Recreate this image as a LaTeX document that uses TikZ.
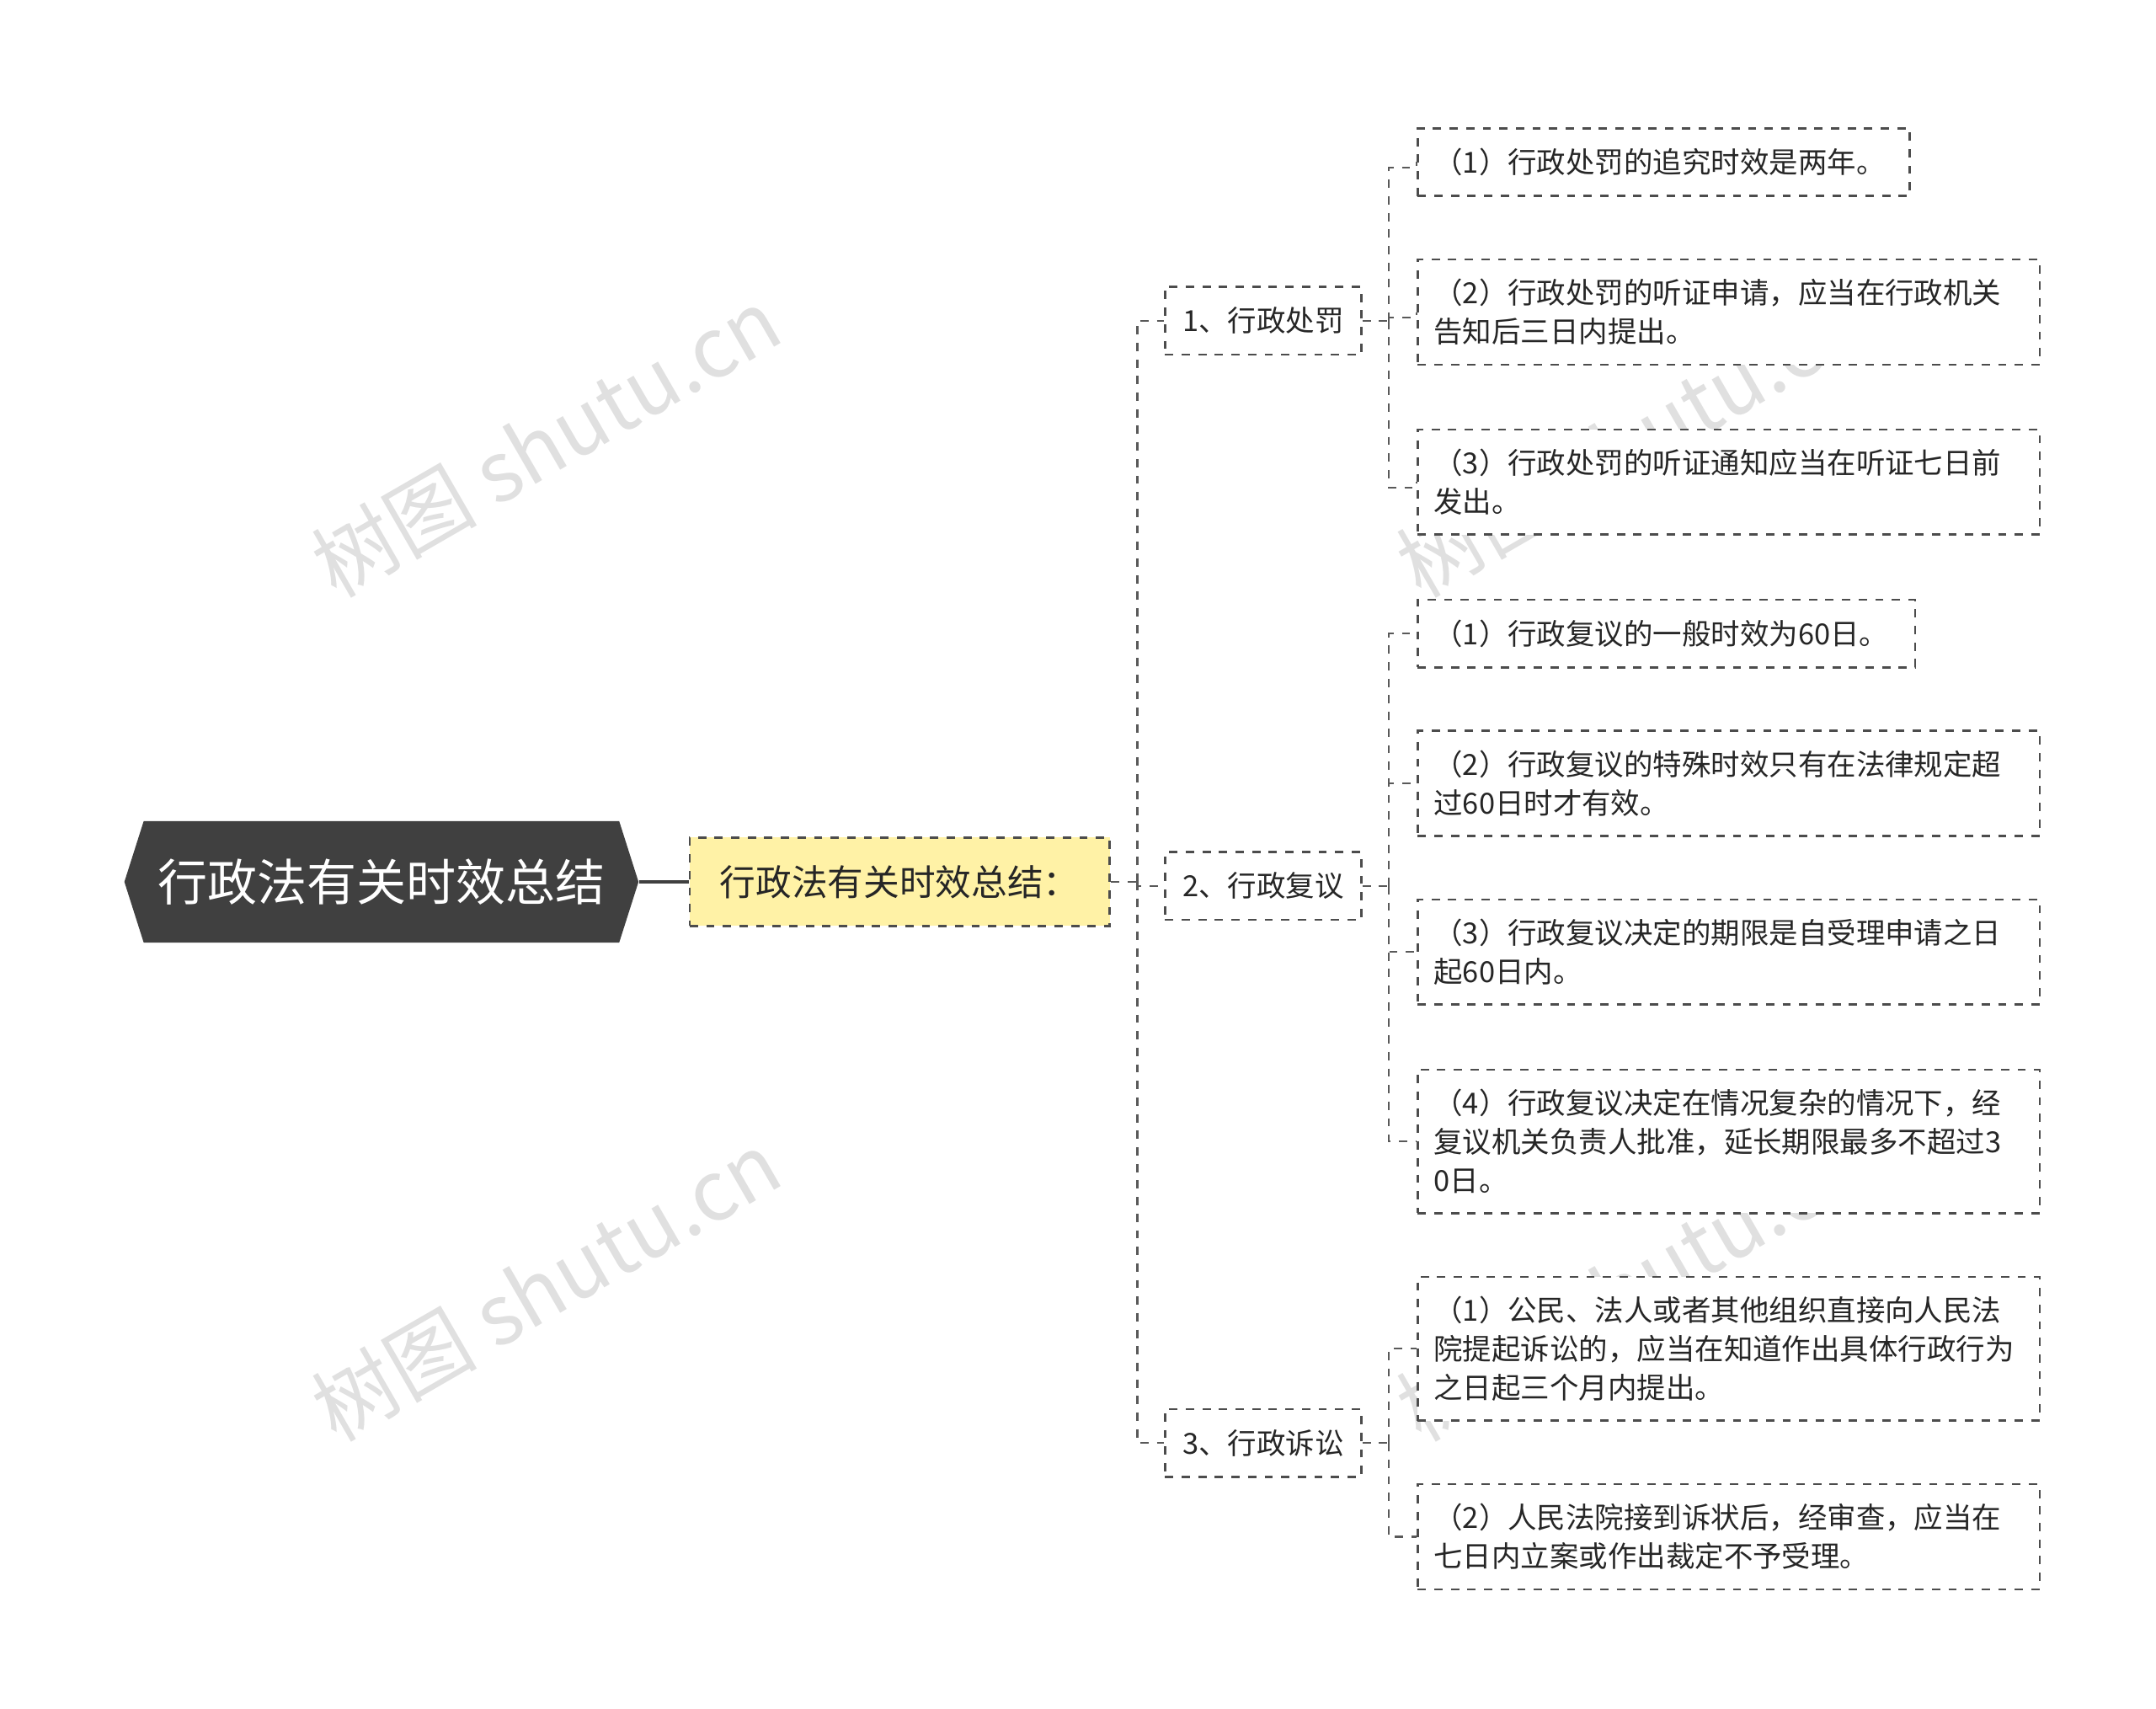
\documentclass[tikz,border=0pt]{standalone}
\usepackage{fontspec}
\newfontfamily\cjk{Noto Sans CJK SC}
\begin{document}
\begin{tikzpicture}[x=0.5pt,y=-0.5pt,
  conn/.style={draw=black!65,dashed,line width=0.7pt},
  leaf/.style={draw=black!70,dashed,line width=0.8pt,fill=white,anchor=north west,inner sep=0pt,font=\cjk\fontsize{10.5}{14}\selectfont,text=black!85},
  mid/.style={draw=black!70,dashed,line width=0.8pt,fill=white,inner sep=0pt,minimum width=71pt,minimum height=24.5pt,font=\cjk\fontsize{10.5}{14}\selectfont,text=black!85},
  wm/.style={text=black!12,rotate=30,font=\cjk\fontsize{30}{30}\selectfont}]
\useasboundingbox (0,0) rectangle (1560,1236);
\fill[white] (0,0) rectangle (1560,1236);
% watermarks
\node[wm] (w1) at (395,320) {树图 shutu.cn};
\node[wm] (w2) at (1180,320) {树图 shutu.cn};
\node[wm] (w3) at (395,930) {树图 shutu.cn};
\node[wm] (w4) at (1180,930) {树图 shutu.cn};
% root
\fill[black!75] (90,638)--(104,594)--(448,594)--(462,638)--(448,682)--(104,682)--cycle;
\node[text=white,font=\cjk\fontsize{18}{20}\selectfont,minimum width=186pt,minimum height=44pt,inner sep=0pt] (root) at (276,638) {行政法有关时效总结};
\node[draw=black!70,dashed,line width=0.8pt,fill=orange!30!yellow!35,minimum width=152pt,minimum height=32pt,inner sep=0pt,font=\cjk\fontsize{13}{15}\selectfont,text=black!85] (l1) at (651,638) {行政法有关时效总结：};
\draw[black!75,line width=1pt] (root.east) -- (l1.west);
% mid
\node[mid] (b1) at (914,232) {1、行政处罚};
\node[mid] (b2) at (914,641) {2、行政复议};
\node[mid] (b3) at (914,1044) {3、行政诉讼};
\coordinate (t) at (823,638);
\draw[conn] (l1.east) -- (t);
\foreach \b in {b1,b2,b3} \draw[conn] (t) |- (\b.west);
% leaves
\newcommand\leafnode[5]{\node[leaf,minimum width=#3,minimum height=#4] (#1) at (1025,#2) {};
  \node[anchor=west,align=left,inner sep=0pt,font=\cjk\fontsize{10.5}{14}\selectfont,text=black!85] at ([xshift=6pt]#1.west) {#5};}
\leafnode{a1}{92}{178pt}{24.5pt}{（1）行政处罚的追究时效是两年。}
\leafnode{a2}{187}{225pt}{38pt}{（2）行政处罚的听证申请，应当在行政机关\\告知后三日内提出。}
\leafnode{a3}{310}{225pt}{38pt}{（3）行政处罚的听证通知应当在听证七日前\\发出。}
\leafnode{c1}{433}{180pt}{24.5pt}{（1）行政复议的一般时效为60日。}
\leafnode{c2}{528}{225pt}{38pt}{（2）行政复议的特殊时效只有在法律规定超\\过60日时才有效。}
\leafnode{c3}{650}{225pt}{38pt}{（3）行政复议决定的期限是自受理申请之日\\起60日内。}
\leafnode{c4}{773}{225pt}{52pt}{（4）行政复议决定在情况复杂的情况下，经\\复议机关负责人批准，延长期限最多不超过3\\0日。}
\leafnode{d1}{923}{225pt}{52pt}{（1）公民、法人或者其他组织直接向人民法\\院提起诉讼的，应当在知道作出具体行政行为\\之日起三个月内提出。}
\leafnode{d2}{1073}{225pt}{38pt}{（2）人民法院接到诉状后，经审查，应当在\\七日内立案或作出裁定不予受理。}
\coordinate (s1) at (1005,232);
\coordinate (s2) at (1005,641);
\coordinate (s3) at (1005,1044);
\draw[conn] (b1.east) -- (s1); \draw[conn] (b2.east) -- (s2); \draw[conn] (b3.east) -- (s3);
\foreach \l in {a1,a2,a3} \draw[conn] (s1) |- ([yshift=-2pt]\l.west) -- (\l.west);
\foreach \l in {c1,c2,c3,c4} \draw[conn] (s2) |- (\l.west);
\foreach \l in {d1,d2} \draw[conn] (s3) |- (\l.west);
\end{tikzpicture}
\end{document}
